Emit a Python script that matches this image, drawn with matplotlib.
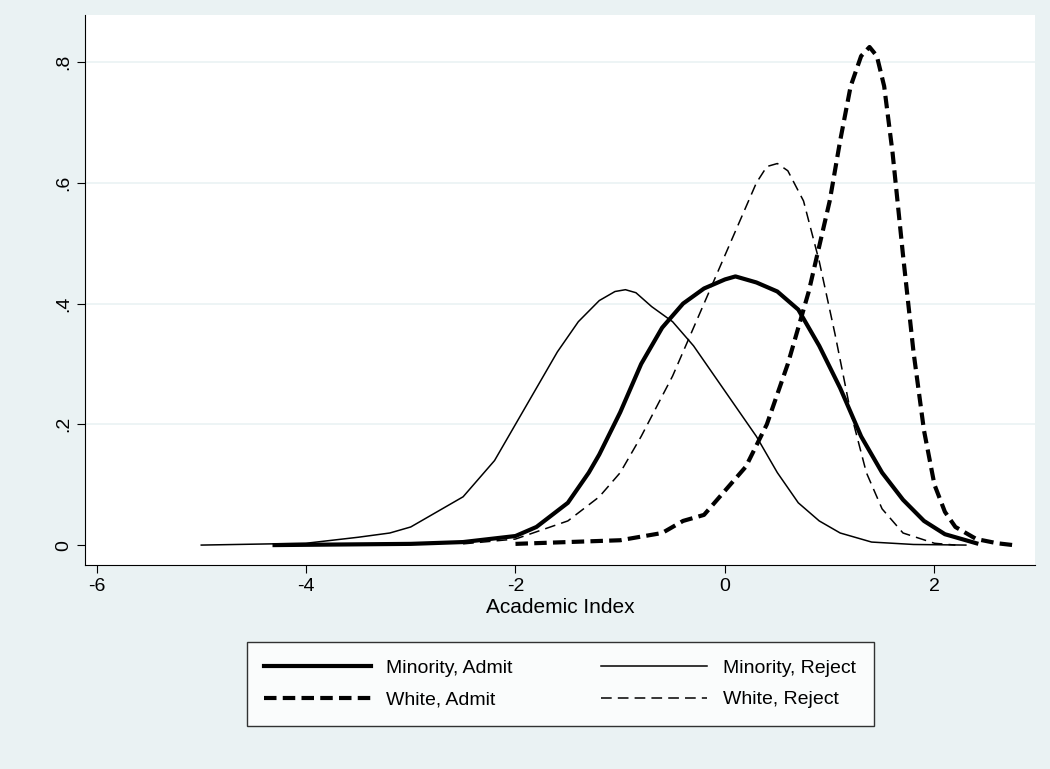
import matplotlib.pyplot as plt
import numpy as np

plt.rcParams['font.family'] = ['Liberation Sans', 'DejaVu Sans']
plt.rcParams['axes.unicode_minus'] = False

# Values
ma_x = [-4.3, -3.0, -2.5, -2.0, -1.8, -1.5, -1.3, -1.2, -1.0, -0.8, -0.6, -0.4, -0.2, 0.0, 0.1, 0.3, 0.5, 0.7, 0.9, 1.1, 1.3, 1.5, 1.7, 1.9, 2.1, 2.4]
ma_y = [0.0, 0.002, 0.005, 0.015, 0.03, 0.07, 0.12, 0.15, 0.22, 0.30, 0.36, 0.40, 0.425, 0.44, 0.445, 0.435, 0.42, 0.39, 0.33, 0.26, 0.18, 0.12, 0.075, 0.04, 0.018, 0.003]

mr_x = [-5.0, -4.0, -3.5, -3.2, -3.0, -2.8, -2.5, -2.2, -2.0, -1.8, -1.6, -1.4, -1.2, -1.05, -0.95, -0.85, -0.7, -0.5, -0.3, -0.1, 0.1, 0.3, 0.5, 0.7, 0.9, 1.1, 1.4, 1.8, 2.3]
mr_y = [0.0, 0.003, 0.013, 0.02, 0.03, 0.05, 0.08, 0.14, 0.20, 0.26, 0.32, 0.37, 0.405, 0.42, 0.423, 0.418, 0.395, 0.37, 0.33, 0.28, 0.23, 0.18, 0.12, 0.07, 0.04, 0.02, 0.005, 0.001, 0.0]

wa_x = [-2.0, -1.0, -0.6, -0.4, -0.2, 0.0, 0.2, 0.4, 0.6, 0.8, 1.0, 1.1, 1.2, 1.3, 1.38, 1.45, 1.52, 1.6, 1.7, 1.8, 1.9, 2.0, 2.1, 2.2, 2.4, 2.6, 2.75]
wa_y = [0.002, 0.008, 0.02, 0.04, 0.05, 0.09, 0.13, 0.20, 0.30, 0.42, 0.57, 0.67, 0.76, 0.81, 0.825, 0.81, 0.76, 0.65, 0.48, 0.32, 0.19, 0.10, 0.055, 0.03, 0.01, 0.003, 0.0]

wr_x = [-2.5, -2.0, -1.5, -1.2, -1.0, -0.8, -0.5, -0.3, -0.1, 0.1, 0.3, 0.4, 0.5, 0.6, 0.75, 0.9, 1.05, 1.2, 1.35, 1.5, 1.7, 2.0, 2.2]
wr_y = [0.002, 0.01, 0.04, 0.08, 0.12, 0.18, 0.28, 0.36, 0.44, 0.52, 0.60, 0.627, 0.632, 0.62, 0.57, 0.47, 0.35, 0.22, 0.12, 0.06, 0.02, 0.003, 0.0]

bg = '#eaf2f3'
fig = plt.figure(figsize=(10.5, 7.69), dpi=100, facecolor=bg)
ax = fig.add_axes([85/1050, 1 - 565/769, 950/1050, 550/769])
ax.set_facecolor('white')

for y in [0.2, 0.4, 0.6, 0.8]:
    ax.axhline(y, color=bg, lw=1.2, zorder=0)

ax.plot(ma_x, ma_y, color='black', lw=3, label='Minority, Admit')
ax.plot(mr_x, mr_y, color='black', lw=1.1, label='Minority, Reject')
ax.plot(wa_x, wa_y, color='black', lw=3, ls=(0, (3, 1.5)), label='White, Admit')
ax.plot(wr_x, wr_y, color='black', lw=1.1, ls=(0, (7, 4)), label='White, Reject')

ax.set_xlim(-6.11, 2.96)
ax.set_ylim(-0.033, 0.878)
ax.set_xticks([-6, -4, -2, 0, 2])
ax.set_yticks([0, 0.2, 0.4, 0.6, 0.8])
ax.set_yticklabels(['0', '.2', '.4', '.6', '.8'], rotation=90, va='center')
ax.tick_params(labelsize=14, length=6)
for s in ['top', 'right']:
    ax.spines[s].set_visible(False)
ax.set_xlabel('Academic Index', fontsize=15, labelpad=2)

h, l = ax.get_legend_handles_labels()
order = [0, 2, 1, 3]
leg = fig.legend([h[i] for i in order], [l[i] for i in order], ncol=2,
                 loc='center', bbox_to_anchor=(560/1050, 1 - 684/769),
                 fontsize=14, frameon=True, fancybox=False, edgecolor='black',
                 handlelength=5.5, columnspacing=4.5, borderpad=0.9,
                 labelspacing=0.7, borderaxespad=0)
leg.get_frame().set_linewidth(1)

fig.savefig('out.png', dpi=100, facecolor=bg)
